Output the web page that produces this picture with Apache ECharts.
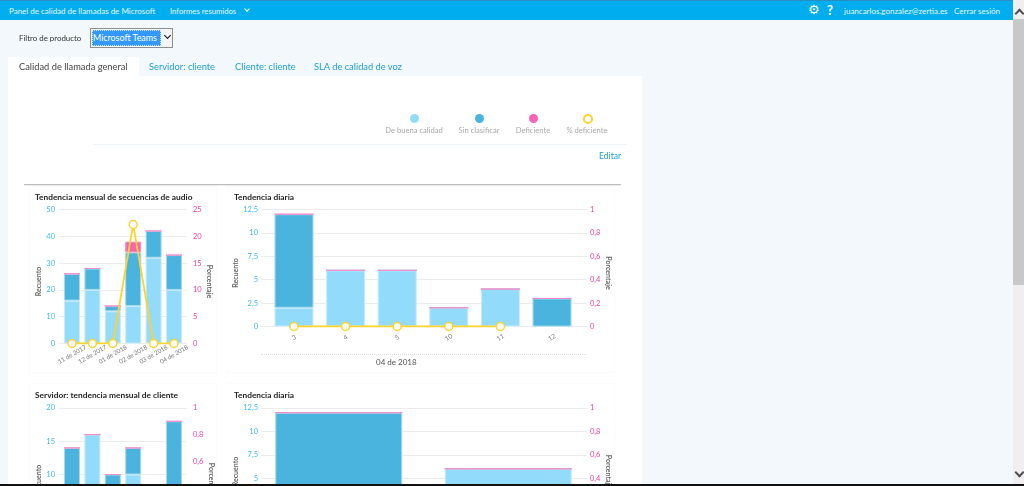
<!DOCTYPE html>
<html lang="es">
<head>
<meta charset="UTF-8">
<title>Panel de calidad de llamadas de Microsoft</title>
<style>
html,body{margin:0;padding:0;width:1024px;height:486px;overflow:hidden;background:#f2f8fb;font-family:Lato,sans-serif;}
.abs{position:absolute;white-space:nowrap;}
#topbar{left:0;top:0;width:1013px;height:20px;background:#00aeef;border-top:1px solid #2a8fc0;box-sizing:border-box;}
.top{color:#e6f7fe;font-size:8px;top:5px;line-height:12px;}
#panel{left:8px;top:76px;width:634px;height:410px;background:#fff;}
#tab0{left:8px;top:57px;width:131px;height:19px;background:#fff;}
.tab{top:60px;font-size:9.3px;line-height:14px;color:#1f9fd3;}
.dot{width:9px;height:9px;border-radius:50%;top:114px;}
.leg{top:125px;font-size:7.6px;line-height:11px;color:#a8a8a8;transform:translateX(-50%);}
.ct{font-size:8.35px;font-weight:700;color:#222;line-height:12px;}
.card{border:1px solid #fbfbfb;box-sizing:border-box;}
.chart{position:absolute;left:0;top:0;width:1024px;height:700px;}
.chev{width:5px;height:5px;border-left:2px solid #505050;border-top:2px solid #505050;}
</style>
<script src="https://cdn.jsdelivr.net/npm/echarts@6/dist/echarts.min.js"></script>
</head>
<body>
<div class="abs" id="panel"></div>
<div class="abs" style="left:93px;top:144px;width:534px;height:1px;background:#eef3f8"></div>
<div class="abs" style="left:24px;top:184px;width:597px;height:1px;background:#bdbdbd"></div>
<div class="abs" style="left:24px;top:185px;width:597px;height:1px;background:#ececec"></div>
<div class="abs card" style="left:29px;top:186px;width:188px;height:187px"></div>
<div class="abs card" style="left:228px;top:186px;width:387px;height:187px"></div>
<div class="abs card" style="left:29px;top:383px;width:188px;height:120px"></div>
<div class="abs card" style="left:228px;top:383px;width:387px;height:120px"></div>

<div class="chart" id="chartA"></div>
<div class="chart" id="chartB"></div>
<div class="chart" id="chartC"></div>
<div class="chart" id="chartD"></div>

<div class="abs" id="topbar"></div>
<div class="abs top" style="left:9px">Panel de calidad de llamadas de Microsoft</div>
<div class="abs top" style="left:170px;font-size:7.7px">Informes resumidos</div>
<div class="abs" style="left:245px;top:7px;width:3px;height:3px;border-right:1px solid #fff;border-bottom:1px solid #fff;transform:rotate(45deg)"></div>
<div class="abs" style="left:808px;top:2px;color:#fff;font:13px/16px 'DejaVu Sans'">⚙</div>
<div class="abs" style="left:827px;top:2px;color:#fff;font:bold 13px/16px Lato">?</div>
<div class="abs top" style="left:844px">juancarlos.gonzalez@zertia.es</div>
<div class="abs top" style="left:954px">Cerrar sesión</div>

<div class="abs" style="left:19px;top:32px;font-size:7.9px;line-height:12px;color:#333">Filtro de producto</div>
<div class="abs" style="left:90px;top:28px;width:83px;height:20px;border:1px solid #8a8f96;box-sizing:border-box;background:#f4f4f4"></div>
<div class="abs" style="left:92px;top:30px;width:69px;height:16px;background:#3399ff;color:#fff;font-size:8.9px;line-height:16px;text-indent:1px;outline:1px dotted #cfe6ff;outline-offset:-1px">Microsoft Teams</div>
<div class="abs" style="left:165px;top:33px;width:4px;height:4px;border-right:1.5px solid #111;border-bottom:1.5px solid #111;transform:rotate(45deg)"></div>

<div class="abs" id="tab0"></div>
<div class="abs tab" style="left:19px;color:#444">Calidad de llamada general</div>
<div class="abs tab" style="left:149px">Servidor: cliente</div>
<div class="abs tab" style="left:235px">Cliente: cliente</div>
<div class="abs tab" style="left:314px">SLA de calidad de voz</div>

<div class="abs dot" style="left:409.5px;background:#93dbfb"></div>
<div class="abs dot" style="left:474.5px;background:#4bb4de"></div>
<div class="abs dot" style="left:528.5px;background:#f564b5"></div>
<div class="abs dot" style="left:582.5px;width:6px;height:6px;border:2px solid #ffd22e;background:#fff;box-sizing:content-box;top:113.5px"></div>
<div class="abs leg" style="left:414px">De buena calidad</div>
<div class="abs leg" style="left:479px">Sin clasificar</div>
<div class="abs leg" style="left:533px">Deficiente</div>
<div class="abs leg" style="left:587px">% deficiente</div>
<div class="abs" style="left:599px;top:150px;font-size:8.6px;line-height:12px;color:#1f9fd3">Editar</div>

<div class="abs ct" style="left:35px;top:191px">Tendencia mensual de secuencias de audio</div>
<div class="abs ct" style="left:234px;top:191px">Tendencia diaria</div>
<div class="abs ct" style="left:35px;top:389px">Servidor: tendencia mensual de cliente</div>
<div class="abs ct" style="left:234px;top:389px">Tendencia diaria</div>
<div class="abs" style="left:261px;top:354px;width:326px;height:0;border-top:1px dotted #ddd"></div>
<div class="abs" style="left:376px;top:357px;font-size:8px;line-height:11px;color:#555">04 de 2018</div>

<div class="abs" style="left:1013px;top:0;width:11px;height:486px;background:#f0eeee"></div>
<div class="abs" style="left:1013px;top:19px;width:11px;height:266px;background:#c8c8c8"></div>
<div class="abs chev" style="left:1015.5px;top:10px;transform:rotate(45deg)"></div>
<div class="abs chev" style="left:1015.5px;top:469px;transform:rotate(225deg)"></div>
<div class="abs" style="left:0;top:484px;width:1024px;height:2px;background:#111"></div>

<script>
var monthsA = ['11 de 2017','12 de 2017','01 de 2018','02 de 2018','03 de 2018','04 de 2018'];
var goodA = [16,20,12,14,32,20];
var unknownA = [10,8,2,20,10,13];
var poorA = [0,0,0,4,0,0];
var pctA = [0,0,0,22.2,0,0];

var daysB = ['3','4','5','10','11','12'];
var goodB = [2,6,6,2,4,0];
var unknownB = [10,0,0,0,0,3];
var poorB = [0,0,0,0,0,0];
var pctB = [0,0,0,0,0,null];

var monthsC = ['11 de 2017','12 de 2017','01 de 2018','02 de 2018','03 de 2018','04 de 2018'];
var goodC = [0,16,0,10,0,0];
var unknownC = [14,0,10,4,0,18];
var poorC = [0,0,0,0,0,0];
var pctC = [0,0,0,0,null,0];

var daysD = ['3','4'];
var goodD = [0,6];
var unknownD = [12,0];
var poorD = [0,0];
var pctD = [0,0];

function comma(v){ return String(v).replace('.',','); }

// two grids: the outer one holds gridlines and tick labels, the inner one the bars,
// because in the original the gridlines overhang the first and last category
function drawTrend(id, o){
  var chart = echarts.init(document.getElementById(id));
  var bar = function(name, arr, color, border){
    return {
      name:name, type:'bar', stack:'s', xAxisIndex:1, yAxisIndex:2, barWidth:o.barWidth, data:arr,
      itemStyle:{color:color, borderColor:border, borderWidth:1},
      silent:true, animation:false
    };
  };
  var nameStyle = {fontSize:7, color:'#666', fontFamily:'Lato', fontWeight:700};
  chart.setOption({
    animation:false,
    grid:[
      {left:o.left, top:o.top, width:o.width, height:o.height},
      {left:o.innerLeft, top:o.top, width:o.innerWidth, height:o.height}
    ],
    xAxis:[
      {gridIndex:0, type:'category', data:o.cats, show:false},
      {
        gridIndex:1, type:'category', data:o.cats,
        axisLine:{show:false}, axisTick:{show:false}, splitLine:{show:false},
        axisLabel:{
          rotate:o.rot, align:'center', verticalAlign:'middle', margin:o.labelGap, interval:0,
          fontSize:o.catSize, color:'#777', fontFamily:'Lato'
        }
      }
    ],
    yAxis:[
      {
        gridIndex:0, type:'value', min:0, max:o.leftMax, interval:o.leftStep,
        name:'Recuento', nameLocation:'center', nameGap:o.leftNameGap, nameRotate:90,
        nameTextStyle:Object.assign({padding:[0,10,0,0]}, nameStyle),
        axisLine:{show:false}, axisTick:{show:false},
        axisLabel:{color:'#3cbcf2', fontSize:7.5, margin:o.leftGap, fontFamily:'Lato', formatter:comma},
        splitLine:{lineStyle:{color:'#ececec', width:1}}
      },
      {
        gridIndex:0, type:'value', position:'right', min:0, max:o.rightMax, interval:o.rightStep,
        name:'Porcentaje', nameLocation:'center', nameGap:o.rightNameGap, nameRotate:-90,
        nameTextStyle:Object.assign({padding:[0,0,0,10]}, nameStyle),
        axisLine:{show:false}, axisTick:{show:false},
        axisLabel:{color:'#ec3fa6', fontSize:7.5, margin:o.rightGap, fontFamily:'Lato', formatter:comma},
        splitLine:{show:false}
      },
      {gridIndex:1, type:'value', min:0, max:o.leftMax, show:false, splitLine:{show:false}},
      {gridIndex:1, type:'value', min:0, max:o.rightMax, show:false, splitLine:{show:false}}
    ],
    series:[
      bar('De buena calidad', o.good, '#93dbfb', '#c9ecfb'),
      bar('Sin clasificar', o.unknown, '#4bb4de', '#a5d9ef'),
      bar('Deficiente', o.poor, '#f564b5', '#f28fcb'),
      {
        name:'% deficiente', type:'line', xAxisIndex:1, yAxisIndex:3, data:o.pct,
        symbol:'circle', symbolSize:8, showSymbol:true, showAllSymbol:true, connectNulls:false,
        lineStyle:{color:'#ffd22e', width:1.8},
        itemStyle:{color:'#fff', borderColor:'#ffd22e', borderWidth:1.5},
        silent:true, animation:false, z:5
      }
    ]
  });
}

drawTrend('chartA',{
  cats:monthsA, good:goodA, unknown:unknownA, poor:poorA, pct:pctA,
  left:59, top:209.5, width:128, height:134, innerLeft:61.8, innerWidth:122.4, barWidth:16,
  leftMax:50, leftStep:10, rightMax:25, rightStep:5, rot:30, labelGap:11, catSize:6.2,
  leftGap:4, rightGap:6, leftNameGap:15, rightNameGap:17
});
drawTrend('chartB',{
  cats:daysB, good:goodB, unknown:unknownB, poor:poorB, pct:pctB,
  left:261, top:209.5, width:326, height:117, innerLeft:268.2, innerWidth:309.6, barWidth:39,
  leftMax:12.5, leftStep:2.5, rightMax:1, rightStep:0.2, rot:30, labelGap:11, catSize:6.5,
  leftGap:3, rightGap:3, leftNameGap:17, rightNameGap:16
});
drawTrend('chartC',{
  cats:monthsC, good:goodC, unknown:unknownC, poor:poorC, pct:pctC,
  left:59, top:408, width:128, height:133, innerLeft:61.8, innerWidth:122.4, barWidth:16,
  leftMax:20, leftStep:5, rightMax:1, rightStep:0.2, rot:30, labelGap:11, catSize:6.2,
  leftGap:4, rightGap:6, leftNameGap:15, rightNameGap:17
});
drawTrend('chartD',{
  cats:daysD, good:goodD, unknown:unknownD, poor:poorD, pct:pctD,
  left:261, top:408, width:326, height:117, innerLeft:254, innerWidth:339, barWidth:127,
  leftMax:12.5, leftStep:2.5, rightMax:1, rightStep:0.2, rot:30, labelGap:11, catSize:6.5,
  leftGap:3, rightGap:3, leftNameGap:17, rightNameGap:16
});
</script>
</body>
</html>
